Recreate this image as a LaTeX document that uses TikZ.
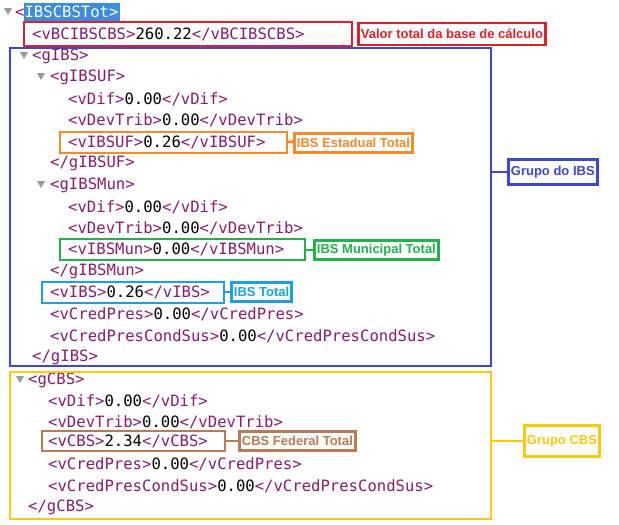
\documentclass[tikz,border=0pt]{standalone}
\usepackage{fontspec}
\setmainfont{Liberation Sans}
\newfontfamily\codefont{DejaVu Sans Mono}
\definecolor{tagc}{HTML}{881D6E}
\definecolor{cred}{HTML}{E0202A}
\definecolor{cblue}{HTML}{3F48CC}
\definecolor{corange}{HTML}{F58A2E}
\definecolor{cgreen}{HTML}{22B14C}
\definecolor{ccyan}{HTML}{1BA1E2}
\definecolor{cyellow}{HTML}{FFC90E}
\definecolor{cbrown}{HTML}{B97A57}
\definecolor{hl}{HTML}{3C8DDE}
\newcommand\tg[1]{\textcolor{tagc}{#1}}
\begin{document}
\begin{tikzpicture}[x=1pt,y=-1pt,
  code/.style={anchor=west,inner sep=0pt,font=\codefont\fontsize{15.6}{17}\selectfont},
  lab/.style={draw=#1,text=#1,line width=2.8pt,font=\bfseries\fontsize{13}{14}\selectfont,inner sep=2.5pt,anchor=west},
  frame/.style={draw=#1,line width=2.8pt},
  tri/.style={fill=gray!80}]
\useasboundingbox (0,0) rectangle (619,525);
\fill[white] (0,0) rectangle (619,525);
\fill[hl] (24,3) rectangle (120,22);
\fill[tri] (4,8) -- (12,8) -- (8,15) -- cycle;
\fill[tri] (20,52) -- (28,52) -- (24,59) -- cycle;
\fill[tri] (37,73) -- (45,73) -- (41,80) -- cycle;
\fill[tri] (37,181) -- (45,181) -- (41,188) -- cycle;
\fill[tri] (16,376) -- (24,376) -- (20,383) -- cycle;
\node[code] (l0) at (15,12) {\tg{<}\textcolor{white}{IBSCBSTot>}};
\node[code] (l1) at (32,34) {\tg{<vBCIBSCBS>}260.22\tg{</vBCIBSCBS>}};
\node[code] (l2) at (32,56) {\tg{<gIBS>}};
\node[code] (l3) at (50,77) {\tg{<gIBSUF>}};
\node[code] (l4) at (68,99) {\tg{<vDif>}0.00\tg{</vDif>}};
\node[code] (l5) at (68,120) {\tg{<vDevTrib>}0.00\tg{</vDevTrib>}};
\node[code] (l6) at (68,142) {\tg{<vIBSUF>}0.26\tg{</vIBSUF>}};
\node[code] (l7) at (50,163) {\tg{</gIBSUF>}};
\node[code] (l8) at (50,185) {\tg{<gIBSMun>}};
\node[code] (l9) at (68,207) {\tg{<vDif>}0.00\tg{</vDif>}};
\node[code] (l10) at (68,228) {\tg{<vDevTrib>}0.00\tg{</vDevTrib>}};
\node[code] (l11) at (68,249) {\tg{<vIBSMun>}0.00\tg{</vIBSMun>}};
\node[code] (l12) at (50,271) {\tg{</gIBSMun>}};
\node[code] (l13) at (50,292) {\tg{<vIBS>}0.26\tg{</vIBS>}};
\node[code] (l14) at (50,314) {\tg{<vCredPres>}0.00\tg{</vCredPres>}};
\node[code] (l15) at (50,336) {\tg{<vCredPresCondSus>}0.00\tg{</vCredPresCondSus>}};
\node[code] (l16) at (32,357) {\tg{</gIBS>}};
\node[code] (l17) at (28,380) {\tg{<gCBS>}};
\node[code] (l18) at (48,401) {\tg{<vDif>}0.00\tg{</vDif>}};
\node[code] (l19) at (48,422) {\tg{<vDevTrib>}0.00\tg{</vDevTrib>}};
\node[code] (l20) at (48,441) {\tg{<vCBS>}2.34\tg{</vCBS>}};
\node[code] (l21) at (48,464) {\tg{<vCredPres>}0.00\tg{</vCredPres>}};
\node[code] (l22) at (48,486) {\tg{<vCredPresCondSus>}0.00\tg{</vCredPresCondSus>}};
\node[code] (l23) at (28,507) {\tg{</gCBS>}};
% frames
\draw[frame=cred] (24,22) rectangle (352,46);
\node[lab=cred,minimum height=22pt] (Lred) at (357,34) {Valor total da base de cálculo};
\draw[frame=cblue] (10,48) rectangle (491,366);
\coordinate (bR) at (491,172);
\node[lab=cblue,minimum height=25pt] (Lblue) at (507,172) {Grupo do IBS};
\draw[cblue,line width=2.8pt] (bR) -- (Lblue);
\draw[frame=corange] (60,132) rectangle (287,153);
\coordinate (oR) at (287,142);
\node[lab=corange,minimum height=19pt] (Lor) at (293,143) {IBS Estadual Total};
\draw[corange,line width=2.8pt] (oR) -- (Lor);
\draw[frame=cgreen] (60,239) rectangle (305,260);
\coordinate (gR) at (305,250);
\node[lab=cgreen,minimum height=19pt] (Lgr) at (313,250) {IBS Municipal Total};
\draw[cgreen,line width=2.8pt] (gR) -- (Lgr);
\draw[frame=ccyan] (42,282) rectangle (224,303);
\coordinate (cR) at (224,292);
\node[lab=ccyan,minimum height=19pt] (Lcy) at (230,292) {IBS Total};
\draw[ccyan,line width=2.8pt] (cR) -- (Lcy);
\draw[frame=cyellow] (10,372) rectangle (491,519);
\coordinate (yR) at (491,441);
\node[lab=cyellow,minimum height=31pt] (Lye) at (523,441) {Grupo CBS};
\draw[cyellow,line width=2.8pt] (yR) -- (Lye);
\draw[frame=cbrown] (42,431) rectangle (225,451);
\coordinate (brR) at (225,441);
\node[lab=cbrown,minimum height=19pt] (Lbr) at (238,441) {CBS Federal Total};
\draw[cbrown,line width=2.8pt] (brR) -- (Lbr);
\end{tikzpicture}
\end{document}
